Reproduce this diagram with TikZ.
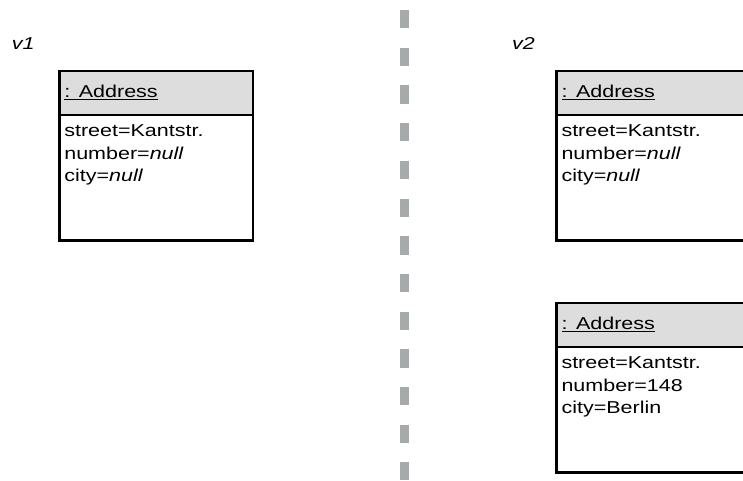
\documentclass[tikz,border=0pt]{standalone}
\usepackage{fontspec}
\setmainfont{Liberation Sans}[FakeStretch=1.25]
\usepackage{xcolor}
\definecolor{HeaderGray} {RGB}{221, 221, 221}
\definecolor{DividerGray}{RGB}{166, 170, 170}
\usepackage{tikz}
\usetikzlibrary{
  positioning
}
\newcommand{\objname}[1]{%
  \setbox0\hbox{#1}\rlap{\rule[-3pt]{\wd0}{1pt}}\box0}

\begin{document}
\begin{tikzpicture}[
  x=1pt, y=-1pt,
  every node/.style={
    font=\fontsize{17.2}{22.6}\selectfont,
    outer sep=0pt},
  objhead/.style={
    draw=black,
    fill=HeaderGray,
    line width=2.4pt,
    anchor=north west,
    align=left, text width=183.7pt,
    inner xsep=5pt,
    minimum height=44pt},
  objbody/.style={
    draw=black,
    fill=white,
    line width=2.4pt,
    anchor=north west,
    minimum width=193.7pt,
    minimum height=125.6pt},
  fields/.style={
    anchor=north west,
    align=left,
    inner xsep=5pt, inner ysep=10pt},
  version/.style={
    anchor=base west, inner sep=0pt,
    font=\fontsize{17.2}{22.6}\selectfont\itshape},
  divider/.style={
    DividerGray, line width=9pt,
    dash pattern=on 18.3pt off 19.4pt}
]
\useasboundingbox (0,0) rectangle (743,480);
\clip (0,0) rectangle (743,480);

\node[version] (v1) at (12,49) {v1};
\node[version] (v2) at (512,49) {v2};

% v1
\node[objhead] (h1) at (59.3,70.7)
  {\objname{: Address}};
\node[objbody] (b1) at (h1.south west) {};
\node[fields] (f1) at (b1.north west)
  {street=Kantstr.\\ number=\textit{null}\\ city=\textit{null}};

% v2
\node[objhead] (h2) at (556.5,70.7)
  {\objname{: Address}};
\node[objbody] (b2) at (h2.south west) {};
\node[fields] (f2) at (b2.north west)
  {street=Kantstr.\\ number=\textit{null}\\ city=\textit{null}};

\node[objhead] (h3) at (556.5,302.7)
  {\objname{: Address}};
\node[objbody] (b3) at (h3.south west) {};
\node[fields] (f3) at (b3.north west)
  {street=Kantstr.\\ number=148\\ city=Berlin};

% divider
\coordinate (divtop) at (404.6,10);
\coordinate (divbot) at (404.6,480);
\draw[divider] (divtop) -- (divbot);
\end{tikzpicture}
\end{document}
